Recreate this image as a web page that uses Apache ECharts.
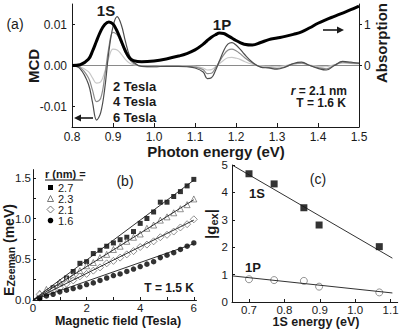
<!DOCTYPE html>
<html>
<head>
<meta charset="utf-8">
<script src="https://cdn.jsdelivr.net/npm/echarts@6/dist/echarts.min.js"></script>
<style>
  html, body { margin: 0; padding: 0; background: #fff; }
  #chart { width: 399px; height: 329px; }
</style>
</head>
<body>
<div id="chart"></div>
<script>
// (a) photon energy grid, absorption and MCD at 2/4/6 Tesla
var energyA = [0.80, 0.82, 0.84, 0.85, 0.86, 0.87, 0.88, 0.89, 0.90, 0.91, 0.92, 0.93, 0.94, 0.95, 0.97,
    1.00, 1.03, 1.06, 1.08, 1.10, 1.12, 1.13, 1.14, 1.15, 1.16, 1.17, 1.18, 1.19, 1.20, 1.21, 1.22,
    1.24, 1.26, 1.28, 1.30, 1.32, 1.34, 1.36, 1.38, 1.40, 1.42, 1.44, 1.46, 1.48, 1.50];
var absorption = [0.00, 0.02, 0.15, 0.35, 0.60, 0.84, 1.00, 1.06, 1.01, 0.84, 0.60, 0.36, 0.19, 0.12, 0.09,
    0.11, 0.16, 0.23, 0.29, 0.38, 0.52, 0.61, 0.69, 0.75, 0.79, 0.78, 0.73, 0.67, 0.61, 0.56, 0.52,
    0.50, 0.56, 0.63, 0.67, 0.71, 0.76, 0.82, 0.92, 1.03, 1.12, 1.20, 1.28, 1.36, 1.45];
var mcd6T = [0, -0.0008, -0.0045, -0.0090, -0.0133, -0.0115, -0.0055, 0.0035, 0.0095, 0.0119, 0.0100, 0.0060, 0.0025, 0.0008, -0.0002,
    -0.0003, -0.0002, -0.0002, -0.0003, -0.0006, -0.0016, -0.0032, -0.0030, -0.0012, 0.0012, 0.0036, 0.0052, 0.0056, 0.0050, 0.0040, 0.0028,
    0.0008, -0.0004, -0.0006, -0.0009, -0.0004, 0.0005, 0.0008, 0.0000, -0.0007, -0.0011, 0.0000, 0.0010, 0.0008, 0.0006];
var mcd4T = [0, -0.0005, -0.0030, -0.0060, -0.0088, -0.0080, -0.0025, 0.0045, 0.0081, 0.0075, 0.0055, 0.0032, 0.0015, 0.0005, -0.0002,
    -0.0003, -0.0002, -0.0002, -0.0002, -0.0004, -0.0010, -0.0020, -0.0019, -0.0006, 0.0010, 0.0026, 0.0037, 0.0040, 0.0036, 0.0029, 0.0020,
    0.0006, -0.0003, -0.0005, -0.0007, -0.0003, 0.0004, 0.0006, 0.0000, -0.0005, -0.0008, 0.0001, 0.0008, 0.0006, 0.0005];
var mcd2T = [0, -0.0003, -0.0015, -0.0030, -0.0043, -0.0040, -0.0015, 0.0020, 0.0040, 0.0038, 0.0028, 0.0015, 0.0006, 0.0002, -0.0001,
    -0.0002, -0.0001, -0.0001, -0.0001, -0.0002, -0.0006, -0.0011, -0.0010, -0.0003, 0.0005, 0.0013, 0.0019, 0.0020, 0.0018, 0.0015, 0.0010,
    0.0003, -0.0001, -0.0002, -0.0003, 0.0000, 0.0004, 0.0005, 0.0001, -0.0002, -0.0003, 0.0002, 0.0006, 0.0005, 0.0004];

// (b) Zeeman splitting vs field for four radii
var fieldB = [0.25, 0.5, 0.75, 1.0, 1.25, 1.5, 1.75, 2.0, 2.25, 2.5, 2.75, 3.0,
    3.25, 3.5, 3.75, 4.0, 4.25, 4.5, 4.75, 5.0, 5.25, 5.5, 5.75, 6.0];
var zee27 = [0.03, 0.08, 0.15, 0.20, 0.27, 0.35, 0.45, 0.47, 0.57, 0.61, 0.66, 0.70,
    0.74, 0.77, 0.84, 0.94, 1.00, 1.08, 1.20, 1.20, 1.27, 1.33, 1.40, 1.48];
var zee23 = [0.08, 0.13, 0.15, 0.22, 0.26, 0.30, 0.36, 0.42, 0.46, 0.52, 0.56, 0.62,
    0.66, 0.72, 0.77, 0.81, 0.88, 0.92, 0.98, 1.02, 1.07, 1.12, 1.17, 1.24];
var zee21 = [0.07, 0.09, 0.12, 0.15, 0.20, 0.24, 0.29, 0.32, 0.36, 0.40, 0.45, 0.48,
    0.52, 0.56, 0.60, 0.65, 0.68, 0.72, 0.77, 0.80, 0.84, 0.89, 0.93, 0.99];
var zee16 = [0.02, 0.05, 0.07, 0.10, 0.12, 0.14, 0.16, 0.19, 0.21, 0.24, 0.27, 0.30,
    0.32, 0.35, 0.38, 0.41, 0.44, 0.47, 0.52, 0.55, 0.58, 0.62, 0.66, 0.70];
var fitFieldB = [0, 6];
var fit27 = [0, 1.47];
var fit23 = [0, 1.23];
var fit21 = [0, 0.98];
var fit16 = [0, 0.69];
var radii = ['2.7', '2.3', '2.1', '1.6'];

// (c) |g_ex| vs 1S energy
var energy1S = [0.700, 0.771, 0.855, 0.898, 1.068];
var g1S = [4.68, 4.31, 3.44, 2.81, 2.02];
var g1P = [0.83, 0.80, 0.77, 0.56, 0.35];
var fitEnergyC = [0.655, 1.105];
var fit1S = [4.98, 1.60];
var fit1P = [0.95, 0.33];

var FONT = 'Liberation Sans, Arial, sans-serif';
var INK = '#1a1a1a';

function pairs(xs, ys) {
    return xs.map(function (x, i) { return [x, ys[i]]; });
}

function axisBase(extra) {
    var base = {
        type: 'value',
        splitLine: { show: false },
        axisLine: { show: true, onZero: false, lineStyle: { color: INK, width: 1 } },
        axisTick: { show: true, inside: true, length: 4, lineStyle: { color: INK } },
        axisLabel: { color: INK, fontSize: 12, fontFamily: FONT, margin: 5 }
    };
    return echarts.util.merge(base, extra, true);
}

function txt(text, x, y, size, bold, align, extra) {
    var el = {
        type: 'text', x: x, y: y, z: 100,
        style: {
            text: text, fill: INK,
            fontSize: size, fontWeight: bold ? 'bold' : 'normal', fontFamily: FONT,
            align: align || 'center', verticalAlign: 'middle',
            textAlign: align || 'center', textVerticalAlign: 'middle'
        }
    };
    return extra ? echarts.util.merge(el, extra, true) : el;
}

function arrow(x1, x2, y) {
    var dir = x2 > x1 ? 1 : -1;
    return [
        { type: 'line', z: 100, shape: { x1: x1, y1: y, x2: x2 - dir * 5, y2: y }, style: { stroke: INK, lineWidth: 1.6 } },
        { type: 'polygon', z: 100, shape: { points: [[x2, y], [x2 - dir * 7, y - 3.5], [x2 - dir * 7, y + 3.5]] }, style: { fill: INK } }
    ];
}

var chart = echarts.init(document.getElementById('chart'), null, { renderer: 'svg' });

var option = {
    animation: false,
    backgroundColor: '#fff',
    grid: [
        { left: 72, top: 4, width: 287, height: 123, outerBoundsMode: 'none' },
        { left: 33, top: 169.6, width: 163.5, height: 130.4, outerBoundsMode: 'none' },
        { left: 232, top: 165, width: 165.7, height: 137, outerBoundsMode: 'none' }
    ],
    xAxis: [
        axisBase({ gridIndex: 0, min: 0.8, max: 1.5, interval: 0.1,
            axisLabel: { margin: 4, formatter: function (v) { return v.toFixed(1); } } }),
        axisBase({ gridIndex: 1, min: 0, max: 6.1,
            axisLabel: { customValues: [0, 2, 4, 6], margin: 2, fontSize: 11.5 },
            axisTick: { customValues: [0, 1, 2, 3, 4, 5, 6], length: 3 } }),
        axisBase({ gridIndex: 2, min: 0.652, max: 1.12,
            axisLabel: { customValues: [0.7, 0.8, 0.9, 1.0, 1.1], margin: 2, fontSize: 11.5,
                formatter: function (v) { return v.toFixed(1); } },
            axisTick: { customValues: [0.7, 0.8, 0.9, 1.0, 1.1], length: 3 } })
    ],
    yAxis: [
        axisBase({ gridIndex: 0, min: -0.015, max: 0.015,
            axisLabel: { customValues: [-0.01, 0, 0.01], formatter: function (v) { return v.toFixed(2); } },
            axisTick: { customValues: [-0.01, 0, 0.01], length: 3 } }),
        axisBase({ gridIndex: 0, position: 'right', min: -1.5, max: 1.5,
            axisLabel: { customValues: [0, 1] },
            axisTick: { customValues: [0, 1], inside: false, length: 3 } }),
        axisBase({ gridIndex: 1, min: 0, max: 1.6,
            axisLabel: { customValues: [0, 0.5, 1, 1.5], margin: 2, fontSize: 11.5,
                formatter: function (v) { return v.toFixed(1); } },
            axisTick: { customValues: [0, 0.25, 0.5, 0.75, 1, 1.25, 1.5], length: 3 } }),
        axisBase({ gridIndex: 2, min: 0, max: 5, interval: 1,
            axisLabel: { margin: 4, fontSize: 11.5 }, axisTick: { length: 3 } })
    ],
    series: [
        // panel (a)
        { type: 'line', xAxisIndex: 0, yAxisIndex: 0, data: [[0.8, 0], [1.5, 0]], symbol: 'none',
          lineStyle: { color: '#8a8a8a', width: 1 }, z: 1 },
        { name: '2 Tesla', type: 'line', xAxisIndex: 0, yAxisIndex: 0, data: pairs(energyA, mcd2T),
          smooth: 0.4, symbol: 'none', lineStyle: { color: '#c8c8c8', width: 1.2 }, z: 2 },
        { name: '4 Tesla', type: 'line', xAxisIndex: 0, yAxisIndex: 0, data: pairs(energyA, mcd4T),
          smooth: 0.4, symbol: 'none', lineStyle: { color: '#8c8c8c', width: 1.2 }, z: 3 },
        { name: '6 Tesla', type: 'line', xAxisIndex: 0, yAxisIndex: 0, data: pairs(energyA, mcd6T),
          smooth: 0.4, symbol: 'none', lineStyle: { color: '#4d4d4d', width: 1.2 }, z: 4 },
        { name: 'Absorption', type: 'line', xAxisIndex: 0, yAxisIndex: 1, data: pairs(energyA, absorption),
          smooth: 0.4, symbol: 'none', lineStyle: { color: '#000', width: 3 }, z: 5 },

        // panel (b) fits
        { type: 'line', xAxisIndex: 1, yAxisIndex: 2, data: pairs(fitFieldB, fit27), symbol: 'none', lineStyle: { color: INK, width: 0.9 } },
        { type: 'line', xAxisIndex: 1, yAxisIndex: 2, data: pairs(fitFieldB, fit23), symbol: 'none', lineStyle: { color: INK, width: 0.9 } },
        { type: 'line', xAxisIndex: 1, yAxisIndex: 2, data: pairs(fitFieldB, fit21), symbol: 'none', lineStyle: { color: INK, width: 0.9 } },
        { type: 'line', xAxisIndex: 1, yAxisIndex: 2, data: pairs(fitFieldB, fit16), symbol: 'none', lineStyle: { color: INK, width: 0.9 } },
        // panel (b) points
        { name: radii[0], type: 'scatter', xAxisIndex: 1, yAxisIndex: 2, data: pairs(fieldB, zee27),
          symbol: 'rect', symbolSize: 5, itemStyle: { color: '#000' } },
        { name: radii[1], type: 'scatter', xAxisIndex: 1, yAxisIndex: 2, data: pairs(fieldB, zee23),
          symbol: 'triangle', symbolSize: 6, itemStyle: { color: '#fff', borderColor: '#555', borderWidth: 0.8 } },
        { name: radii[2], type: 'scatter', xAxisIndex: 1, yAxisIndex: 2, data: pairs(fieldB, zee21),
          symbol: 'diamond', symbolSize: 7, itemStyle: { color: '#fff', borderColor: '#555', borderWidth: 0.8 } },
        { name: radii[3], type: 'scatter', xAxisIndex: 1, yAxisIndex: 2, data: pairs(fieldB, zee16),
          symbol: 'circle', symbolSize: 5.5, itemStyle: { color: '#000' } },

        // panel (c)
        { type: 'line', xAxisIndex: 2, yAxisIndex: 3, data: pairs(fitEnergyC, fit1S), symbol: 'none', lineStyle: { color: INK, width: 0.9 } },
        { type: 'line', xAxisIndex: 2, yAxisIndex: 3, data: pairs(fitEnergyC, fit1P), symbol: 'none', lineStyle: { color: INK, width: 0.9 } },
        { name: '1S', type: 'scatter', xAxisIndex: 2, yAxisIndex: 3, data: pairs(energy1S, g1S),
          symbol: 'rect', symbolSize: 7, itemStyle: { color: '#000' } },
        { name: '1P', type: 'scatter', xAxisIndex: 2, yAxisIndex: 3, data: pairs(energy1S, g1P),
          symbol: 'circle', symbolSize: 7, itemStyle: { color: '#fff', borderColor: '#777', borderWidth: 1 } }
    ],
    graphic: [
        // panel (a) texts
        txt('(a)', 15, 24, 14, false),
        txt('MCD', 33, 66, 15, true, 'center', { rotation: Math.PI / 2 }),
        txt('Absorption', 381, 43, 15, true, 'center', { rotation: Math.PI / 2 }),
        txt('Photon energy (eV)', 216, 151.3, 15, true),
        txt('1S', 106, 10, 15, true),
        txt('1P', 222, 24.5, 15, true),
        txt('2 Tesla', 113, 86, 13, true, 'left'),
        txt('4 Tesla', 113, 101, 13, true, 'left'),
        txt('6 Tesla', 113, 117, 13, true, 'left'),
        {
            type: 'text', x: 347, y: 90.5, z: 100,
            style: {
                text: '{i|r}{b| = 2.1 nm}', align: 'right', verticalAlign: 'middle',
                textAlign: 'right', textVerticalAlign: 'middle',
                rich: {
                    i: { fontSize: 12, fontWeight: 'bold', fontStyle: 'italic', fontFamily: FONT, fill: INK, color: INK },
                    b: { fontSize: 12, fontWeight: 'bold', fontFamily: FONT, fill: INK, color: INK }
                }
            }
        },
        txt('T = 1.6 K', 346, 103, 12, true, 'right'),

        // panel (b) texts
        txt('(b)', 125, 181, 14, false),
        txt('T = 1.5 K', 194, 288, 12, true, 'right'),
        txt('r (nm) =', 45, 174, 11, true, 'left'),
        { type: 'line', z: 100, shape: { x1: 45, y1: 180, x2: 83, y2: 180 }, style: { stroke: INK, lineWidth: 1 } },
        txt(radii[0], 58, 187.5, 11, false, 'left'),
        txt(radii[1], 58, 198.5, 11, false, 'left'),
        txt(radii[2], 58, 209.5, 11, false, 'left'),
        txt(radii[3], 58, 220.5, 11, false, 'left'),
        { type: 'rect', z: 100, shape: { x: 48, y: 185, width: 5, height: 5 }, style: { fill: '#000' } },
        { type: 'polygon', z: 100, shape: { points: [[50.5, 195.5], [47.5, 201.5], [53.5, 201.5]] }, style: { fill: '#fff', stroke: '#555', lineWidth: 0.8 } },
        { type: 'polygon', z: 100, shape: { points: [[50.5, 206], [54, 209.5], [50.5, 213], [47, 209.5]] }, style: { fill: '#fff', stroke: '#555', lineWidth: 0.8 } },
        { type: 'circle', z: 100, shape: { cx: 50.5, cy: 220.5, r: 2.8 }, style: { fill: '#000' } },
        {
            type: 'text', x: 8.5, y: 250, z: 100, rotation: Math.PI / 2,
            style: {
                text: '{b|E}{s|Zeeman}{b| (meV)}', align: 'center', verticalAlign: 'middle',
                textAlign: 'center', textVerticalAlign: 'middle',
                rich: {
                    b: { fontSize: 14, fontWeight: 'bold', fontFamily: FONT, fill: INK, color: INK, lineHeight: 15 },
                    s: { fontSize: 10.5, fontWeight: 'bold', fontFamily: FONT, fill: INK, color: INK, verticalAlign: 'bottom', lineHeight: 15 }
                }
            }
        },
        txt('Magnetic field (Tesla)', 118, 321, 12.5, true),

        // panel (c) texts
        txt('(c)', 318, 179, 14, false),
        txt('1S', 257, 193, 13, true),
        txt('1P', 253, 267, 13, true),
        {
            type: 'text', x: 210, y: 224, z: 100, rotation: Math.PI / 2,
            style: {
                text: '{b||g}{s|ex}{b||}', align: 'center', verticalAlign: 'middle',
                textAlign: 'center', textVerticalAlign: 'middle',
                rich: {
                    b: { fontSize: 15, fontWeight: 'bold', fontFamily: FONT, fill: INK, color: INK, lineHeight: 18 },
                    s: { fontSize: 11, fontWeight: 'bold', fontFamily: FONT, fill: INK, color: INK, verticalAlign: 'bottom', lineHeight: 18 }
                }
            }
        },
        txt('1S energy (eV)', 316, 321.5, 12.5, true)
    ].concat(arrow(93, 74, 118), arrow(323, 344, 30))
};

option && chart.setOption(option);
</script>
</body>
</html>
